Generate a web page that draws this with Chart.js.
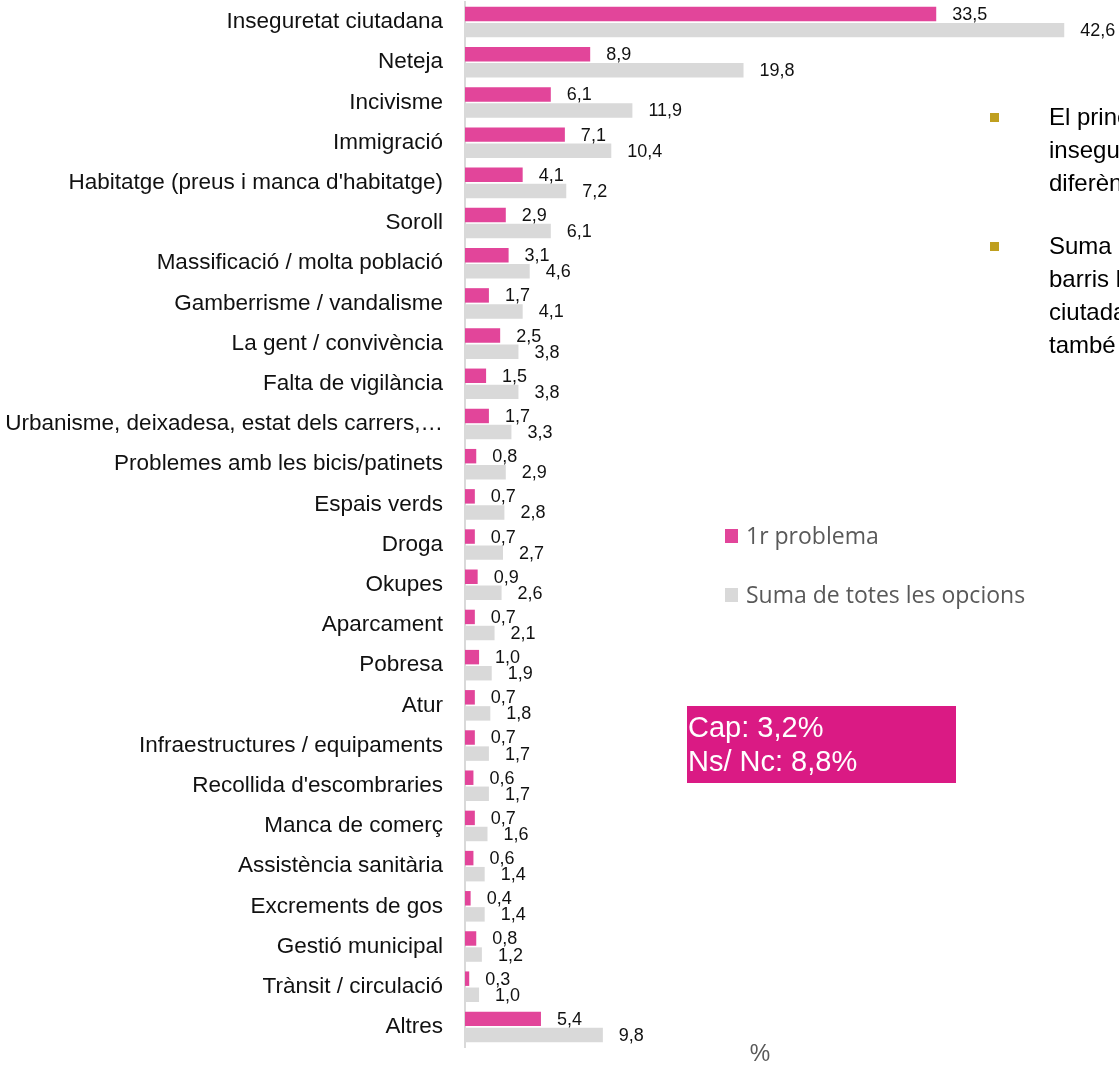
<!DOCTYPE html>
<html>
<head>
<meta charset="utf-8">
<script src="https://cdn.jsdelivr.net/npm/chart.js@4/dist/chart.umd.min.js"></script>
<style>
  body { margin: 0; background: #fff; }
  #wrap { width: 1119px; height: 1067px; }
</style>
</head>
<body>
<div id="wrap"><canvas id="chart" width="1119" height="1067"></canvas></div>
<script>
const categories = [
    'Inseguretat ciutadana', 'Neteja', 'Incivisme', 'Immigració',
    "Habitatge (preus i manca d'habitatge)", 'Soroll', 'Massificació / molta població',
    'Gamberrisme / vandalisme', 'La gent / convivència', 'Falta de vigilància',
    'Urbanisme, deixadesa, estat dels carrers,…', 'Problemes amb les bicis/patinets',
    'Espais verds', 'Droga', 'Okupes', 'Aparcament', 'Pobresa', 'Atur',
    'Infraestructures / equipaments', "Recollida d'escombraries", 'Manca de comerç',
    'Assistència sanitària', 'Excrements de gos', 'Gestió municipal',
    'Trànsit / circulació', 'Altres'
];
const primerProblema = [33.5, 8.9, 6.1, 7.1, 4.1, 2.9, 3.1, 1.7, 2.5, 1.5, 1.7, 0.8, 0.7,
    0.7, 0.9, 0.7, 1.0, 0.7, 0.7, 0.6, 0.7, 0.6, 0.4, 0.8, 0.3, 5.4];
const sumaOpcions = [42.6, 19.8, 11.9, 10.4, 7.2, 6.1, 4.6, 4.1, 3.8, 3.8, 3.3, 2.9, 2.8,
    2.7, 2.6, 2.1, 1.9, 1.8, 1.7, 1.7, 1.6, 1.4, 1.4, 1.2, 1.0, 9.8];
const seriesNames = ['1r problema', 'Suma de totes les opcions'];
const altres = ['Cap: 3,2%', 'Ns/ Nc: 8,8%'];
const nota1 = ['El principal problema dels barris és la', 'inseguretat ciutadana, amb molta', 'diferència respecte a la resta.'];
const nota2 = ['Suma de totes les opcions: en tots els', 'barris la inseguretat', 'ciutadana és el primer problema,', 'també ...'];

const fmt = v => v.toFixed(1).replace('.', ',');

// etiquetes de valor a la dreta de cada barra
const valueLabels = {
    id: 'valueLabels',
    afterDatasetsDraw(chart) {
        const ctx = chart.ctx;
        ctx.save();
        ctx.font = '18px "Liberation Sans", Arial, sans-serif';
        ctx.fillStyle = '#111';
        ctx.textAlign = 'left';
        ctx.textBaseline = 'middle';
        chart.data.datasets.forEach((ds, i) => {
            chart.getDatasetMeta(i).data.forEach((bar, j) => {
                ctx.fillText(fmt(ds.data[j]), bar.x + 16, bar.y + 1);
            });
        });
        ctx.restore();
    }
};

// llegenda, requadre i notes
const extras = {
    id: 'extras',
    afterDraw(chart) {
        const ctx = chart.ctx;
        ctx.save();
        // llegenda
        ctx.font = '23px "Open Sans", sans-serif';
        ctx.textBaseline = 'middle';
        ctx.textAlign = 'left';
        chart.data.datasets.forEach((ds, i) => {
            const y = 536 + i * 59;
            ctx.fillStyle = ds.backgroundColor;
            ctx.fillRect(725, y - 7, 13, 14);
            ctx.fillStyle = '#595959';
            ctx.fillText(ds.label, 746, y + 1);
        });
        // requadre Cap / Ns-Nc
        ctx.fillStyle = '#DA1A84';
        ctx.fillRect(687, 706, 269, 77);
        ctx.fillStyle = '#fff';
        ctx.font = '29px "Liberation Sans", Arial, sans-serif';
        altres.forEach((t, i) => ctx.fillText(t, 688, 729 + i * 34));
        // notes
        ctx.font = '24px "Liberation Sans", Arial, sans-serif';
        [[nota1, 118], [nota2, 247]].forEach(([lines, y0]) => {
            ctx.fillStyle = '#BF9F1F';
            ctx.fillRect(990, y0 - 5, 9, 9);
            ctx.fillStyle = '#000';
            lines.forEach((t, i) => ctx.fillText(t, 1049, y0 + i * 33));
        });
        // títol eix
        ctx.fillStyle = '#595959';
        ctx.font = '23px "Liberation Sans", Arial, sans-serif';
        ctx.textAlign = 'center';
        ctx.fillText('%', 760, 1055);
        ctx.restore();
    }
};

const data = {
    labels: categories,
    datasets: [{
            label: seriesNames[0],
            data: primerProblema,
            backgroundColor: '#E2459A'
        }, {
            label: seriesNames[1],
            data: sumaOpcions,
            backgroundColor: '#D9D9D9'
        }]
};
const config = {
    type: 'bar',
    data: data,
    options: {
        indexAxis: 'y',
        responsive: false,
        animation: false,
        categoryPercentage: 0.8,
        barPercentage: 0.9,
        layout: {
            padding: {top: 2, bottom: 20, right: 21, left: 0}
        },
        plugins: {
            legend: {display: false},
            tooltip: {enabled: false}
        },
        scales: {
            x: {
                display: false,
                min: 0,
                max: 45
            },
            y: {
                grid: {display: false, drawTicks: false},
                border: {display: true, color: '#D9D9D9', width: 2},
                ticks: {
                    color: '#111',
                    padding: 22,
                    autoSkip: false,
                    font: {family: '"Liberation Sans", Arial, sans-serif', size: 22.5}
                },
                afterFit(scale) {
                    scale.width = 465;
                    scale.paddingTop = 0;
                    scale.paddingBottom = 0;
                }
            }
        }
    },
    plugins: [valueLabels, extras]
};
let ctx = document.getElementById('chart').getContext('2d');
new Chart(ctx, config);
</script>
</body>
</html>
